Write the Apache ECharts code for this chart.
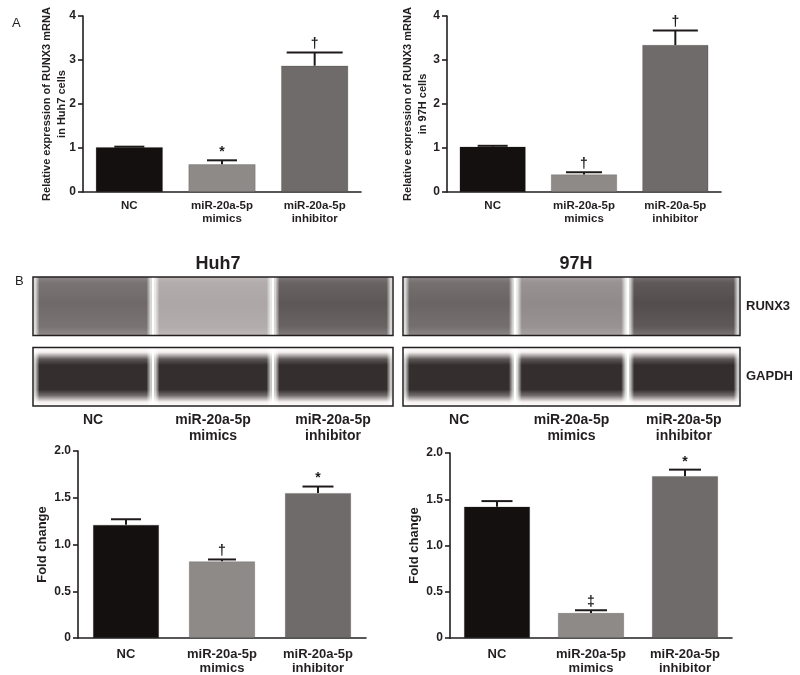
<!DOCTYPE html>
<html>
<head>
<meta charset="utf-8">
<script src="https://cdn.jsdelivr.net/npm/echarts@6/dist/echarts.min.js"></script>
<style>html,body{margin:0;padding:0;background:#fff}#c{width:800px;height:675px}</style>
</head>
<body>
<div id="c"></div>
<script>
// ---------- DATA ----------
const categories = ['NC', 'miR-20a-5p\nmimics', 'miR-20a-5p\ninhibitor'];
// Panel A: relative RUNX3 mRNA
const huh7Mrna = [1.02, 0.63, 2.87];
const huh7MrnaErr = [0.01, 0.09, 0.30];
const huh7MrnaSig = ['', '*', '†'];
const h97Mrna = [1.03, 0.40, 3.34];
const h97MrnaErr = [0.02, 0.05, 0.33];
const h97MrnaSig = ['', '†', '†'];
// Panel B: protein fold change
const huh7Fold = [1.21, 0.82, 1.55];
const huh7FoldErr = [0.06, 0.02, 0.07];
const huh7FoldSig = ['', '†', '*'];
const h97Fold = [1.42, 0.27, 1.75];
const h97FoldErr = [0.06, 0.03, 0.07];
const h97FoldSig = ['', '‡', '*'];
// Blot band darkness (0 = white, 1 = black)
const blotRows = ['GAPDH', 'RUNX3'];
const huh7Runx3Band = [0.58, 0.34, 0.65];
const huh7GapdhBand = [0.81, 0.81, 0.81];
const h97Runx3Band = [0.60, 0.45, 0.69];
const h97GapdhBand = [0.81, 0.81, 0.81];
const mrnaTicks = [0, 1, 2, 3, 4];
const foldTicks = [0, 0.5, 1.0, 1.5, 2.0];

// ---------- STYLE ----------
const FONT = '"Liberation Sans", Arial, Helvetica, sans-serif';
const INK = '#231f20';
const barColors = ['#141010', '#8e8a88', '#6f6b6a'];

const chart = echarts.init(document.getElementById('c'), null, {renderer: 'canvas'});

function barGrid(left, top, width, height) {
  return {left, top, width, height, containLabel: false};
}
function xCat(gridIndex, fontSize, lh, margin) {
  return {
    type: 'category', gridIndex, data: categories,
    axisLine: {lineStyle: {color: INK, width: 1.6}},
    axisTick: {alignWithLabel: true, length: 5, lineStyle: {color: INK, width: 1.6}},
    axisLabel: {color: INK, fontFamily: FONT, fontWeight: 'bold', fontSize, lineHeight: lh, margin, interval: 0}
  };
}
function yVal(gridIndex, max, interval, name, nameGap, nameSize, fmt) {
  return {
    type: 'value', gridIndex, min: 0, max, interval,
    name, nameLocation: 'middle', nameGap, nameMoveOverlap: false,
    nameTextStyle: {color: INK, fontFamily: FONT, fontWeight: 'bold', fontSize: nameSize, lineHeight: nameSize + 4},
    axisLine: {show: true, lineStyle: {color: INK, width: 1.6}},
    axisTick: {show: true, length: 5, lineStyle: {color: INK, width: 1.6}},
    splitLine: {show: false},
    axisLabel: {color: INK, fontFamily: FONT, fontWeight: 'bold', fontSize: 12, margin: 7, formatter: fmt}
  };
}
function barSeries(idx, values, width) {
  return {
    type: 'bar', xAxisIndex: idx, yAxisIndex: idx, barWidth: width,
    data: values.map((v, i) => ({value: v, itemStyle: {color: barColors[i], borderColor: 'rgba(40,35,35,0.35)', borderWidth: 0.6}})),
    silent: true, z: 2
  };
}
function errSeries(idx, values, errs, sigs, capWidths, sigSize) {
  return {
    type: 'custom', xAxisIndex: idx, yAxisIndex: idx, z: 3, silent: true,
    data: values.map((v, i) => [i, v, v + errs[i]]),
    renderItem: function (params, api) {
      const i = params.dataIndex;
      const p0 = api.coord([api.value(0), api.value(1)]);
      const p1 = api.coord([api.value(0), api.value(2)]);
      const h = capWidths[i] / 2;
      const st = {stroke: '#1e1a1a', lineWidth: 2};
      const ch = [
        {type: 'line', shape: {x1: p0[0], y1: p0[1], x2: p1[0], y2: p1[1]}, style: st},
        {type: 'line', shape: {x1: p1[0] - h, y1: p1[1], x2: p1[0] + h, y2: p1[1]}, style: st}
      ];
      if (sigs[i]) {
        ch.push({type: 'text', x: p1[0], y: p1[1] - 1,
          style: {text: sigs[i], align: 'center', verticalAlign: 'bottom', fill: '#1e1a1a',
            font: 'bold ' + sigSize + 'px ' + FONT}});
      }
      return {type: 'group', children: ch};
    }
  };
}

// blot grids
function blotX(gridIndex) {
  return {
    type: 'category', gridIndex, data: categories,
    axisLine: {show: false}, axisTick: {show: false},
    axisLabel: {color: INK, fontFamily: FONT, fontWeight: 'bold', fontSize: 14, lineHeight: 16, margin: 0, interval: 0}
  };
}
function blotY(gridIndex, showLabels) {
  return {
    type: 'category', gridIndex, data: blotRows, position: 'right',
    axisLine: {show: false}, axisTick: {show: false},
    axisLabel: {show: showLabels, color: INK, fontFamily: FONT, fontWeight: 'bold', fontSize: 13, margin: 6}
  };
}
function g(v) { return Math.round(255 * (1 - v)); }
function grayCol(d, a) {
  const c = g(d);
  return 'rgba(' + Math.min(255, c + 4) + ',' + Math.max(0, c - 1) + ',' + Math.max(0, c - 2) + ',' + (a == null ? 1 : a) + ')';
}
const INSET = 6;
function laneSeries(idx, runx3, gapdh) {
  const data = [];
  runx3.forEach((d, i) => data.push([i, 1, d]));
  gapdh.forEach((d, i) => data.push([i, 0, d]));
  return {
    type: 'custom', xAxisIndex: idx, yAxisIndex: idx, silent: true, z: 2,
    data,
    renderItem: function (params, api) {
      const lane = api.value(0), row = api.value(1), d = api.value(2);
      const c = api.coord([lane, row]);
      const sz = api.size([1, 1]);
      const x0 = c[0] - sz[0] / 2 + 1.5, w = sz[0] - 3;
      const y0 = c[1] - sz[1] / 2 + INSET, hgt = sz[1] - 2 * INSET;
      let stops;
      if (row === 1) {
        stops = [
          {offset: 0, color: grayCol(d * 0.8)},
          {offset: 0.1, color: grayCol(d * 0.93)},
          {offset: 0.45, color: grayCol(d)},
          {offset: 0.85, color: grayCol(d * 0.93)},
          {offset: 1, color: grayCol(d * 0.78)}
        ];
      } else {
        stops = [
          {offset: 0, color: grayCol(0.0)},
          {offset: 0.08, color: grayCol(0.05)},
          {offset: 0.2, color: grayCol(d * 0.8)},
          {offset: 0.3, color: grayCol(d)},
          {offset: 0.72, color: grayCol(d)},
          {offset: 0.82, color: grayCol(d * 0.7)},
          {offset: 0.93, color: grayCol(0.05)},
          {offset: 1, color: grayCol(0.0)}
        ];
      }
      const fade = 5;
      return {type: 'group', children: [
        {type: 'rect', shape: {x: x0, y: y0, width: w, height: hgt},
          style: {fill: new echarts.graphic.LinearGradient(0, 0, 0, 1, stops)}},
        {type: 'rect', shape: {x: x0, y: y0, width: fade, height: hgt},
          style: {fill: new echarts.graphic.LinearGradient(0, 0, 1, 0, [
            {offset: 0, color: 'rgba(255,255,255,0.9)'}, {offset: 1, color: 'rgba(255,255,255,0)'}])}},
        {type: 'rect', shape: {x: x0 + w - fade, y: y0, width: fade, height: hgt},
          style: {fill: new echarts.graphic.LinearGradient(0, 0, 1, 0, [
            {offset: 0, color: 'rgba(255,255,255,0)'}, {offset: 1, color: 'rgba(255,255,255,0.9)'}])}}
      ]};
    }
  };
}
function frameSeries(idx) {
  return {
    type: 'custom', xAxisIndex: idx, yAxisIndex: idx, silent: true, z: 4,
    data: [[0, 0], [0, 1]],
    renderItem: function (params, api) {
      const cs = params.coordSys;
      const c = api.coord([0, api.value(1)]);
      const sz = api.size([1, 1]);
      return {type: 'rect',
        shape: {x: cs.x, y: c[1] - sz[1] / 2 + INSET, width: cs.width, height: sz[1] - 2 * INSET},
        style: {fill: 'none', stroke: INK, lineWidth: 1.5}};
    }
  };
}

const fmtMrna = v => String(v);
const fmtFold = v => (v === 0 ? '0' : v.toFixed(1));

const option = {
  animation: false,
  backgroundColor: '#ffffff',
  title: [
    {text: 'A', left: 7, top: 12, textStyle: {fontFamily: FONT, fontWeight: 'normal', fontSize: 13, color: INK}},
    {text: 'B', left: 10, top: 270, textStyle: {fontFamily: FONT, fontWeight: 'normal', fontSize: 13, color: INK}},
    {text: 'Huh7', left: 213, top: 250, textAlign: 'center', textStyle: {fontFamily: FONT, fontWeight: 'bold', fontSize: 18, color: INK}},
    {text: '97H', left: 571, top: 250, textAlign: 'center', textStyle: {fontFamily: FONT, fontWeight: 'bold', fontSize: 18, color: INK}}
  ],
  grid: [
    barGrid(83, 16, 278, 176),
    barGrid(447, 16, 274, 176),
    {left: 33, top: 271, width: 360, height: 141},
    {left: 403, top: 271, width: 337, height: 141},
    barGrid(78, 451, 288, 190),
    barGrid(450, 453, 282, 189)
  ],
  xAxis: [
    xCat(0, 11.5, 13, 7), xCat(1, 11.5, 13, 7),
    blotX(2), blotX(3),
    xCat(4, 13, 14, 9), xCat(5, 13, 14, 9)
  ],
  yAxis: [
    yVal(0, 4, 1, 'Relative expression of RUNX3 mRNA\nin Huh7 cells', 14, 11, fmtMrna),
    yVal(1, 4, 1, 'Relative expression of RUNX3 mRNA\nin 97H cells', 17, 11, fmtMrna),
    blotY(2, false), blotY(3, true),
    yVal(4, 2, 0.5, 'Fold change', 27, 13, fmtFold),
    yVal(5, 2, 0.5, 'Fold change', 27, 13, fmtFold)
  ],
  series: [
    barSeries(0, huh7Mrna, 67),
    errSeries(0, huh7Mrna, huh7MrnaErr, huh7MrnaSig, [30, 30, 56], 14),
    barSeries(1, h97Mrna, 66),
    errSeries(1, h97Mrna, h97MrnaErr, h97MrnaSig, [30, 36, 45], 14),
    laneSeries(2, huh7Runx3Band, huh7GapdhBand), frameSeries(2),
    laneSeries(3, h97Runx3Band, h97GapdhBand), frameSeries(3),
    barSeries(4, huh7Fold, 66),
    errSeries(4, huh7Fold, huh7FoldErr, huh7FoldSig, [30, 28, 31], 14),
    barSeries(5, h97Fold, 66),
    errSeries(5, h97Fold, h97FoldErr, h97FoldSig, [31, 32, 32], 14)
  ]
};
chart.setOption(option);
</script>
</body>
</html>
